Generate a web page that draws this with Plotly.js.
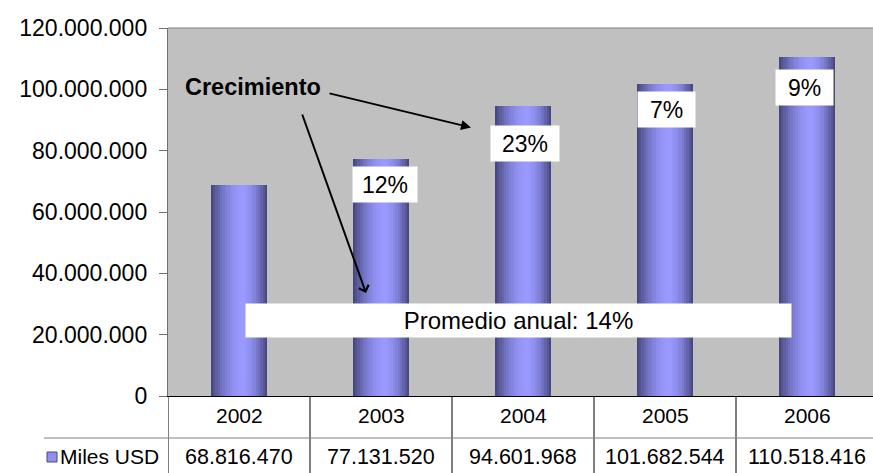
<!DOCTYPE html>
<html>
<head>
<meta charset="utf-8">
<script src="https://cdn.plot.ly/plotly-3.0.1.min.js"></script>
<style>html,body{margin:0;padding:0;background:#fff;}#chart{width:873px;height:473px;}</style>
</head>
<body>
<div id="chart"></div>
<script>
// ---- data ----
const years = ['2002', '2003', '2004', '2005', '2006'];
const milesUSD = [68816470, 77131520, 94601968, 101682544, 110518416];
const seriesName = 'Miles USD';
const growthLabels = ['12%', '23%', '7%', '9%'];      // 2003..2006
const growthTitle = 'Crecimiento';
const averageLabel = 'Promedio anual: 14%';
const yTickVals = [0, 20000000, 40000000, 60000000, 80000000, 100000000, 120000000];

// ---- helpers ----
const FONT = 'Liberation Sans, Arial, Helvetica, sans-serif';
function fmt(n) { return String(Math.round(n)).replace(/\B(?=(\d{3})+(?!\d))/g, '.'); }

// pixel geometry of the plot area
const W = 873, H = 473, L = 168, T = 28, B = 396;
const catW = 142;
const plotW = W - L, plotH = B - T;
const xRange = [-0.5, -0.5 + plotW / catW];
const yMax = 120000000;
function px2x(px) { return (px - L) / catW - 0.5; }
function py2y(py) { return (B - py) / plotH * yMax; }
function py2paper(py) { return (B - py) / plotH; }
function px2paper(px) { return (px - L) / plotW; }

// ---- bars with simulated cylindrical gradient (overlaid strips) ----
const barW = 0.4, N = 24;
const dark = [66, 66, 118], light = [153, 153, 255], peak = 0.56;
function shade(t) {
  let d = t < peak ? (peak - t) / peak : (t - peak) / (1 - peak);
  let k = 1 - Math.pow(d, 1.8);
  const c = dark.map((v, i) => Math.round(v + (light[i] - v) * k));
  return 'rgb(' + c.join(',') + ')';
}
const xIdx = years.map((_, i) => i);
const traces = [];
for (let i = 0; i < N; i++) {
  const start = -barW / 2 + i * barW / N;
  traces.push({
    type: 'bar', x: xIdx, y: milesUSD, name: seriesName,
    offset: start, width: barW / 2 - start,
    marker: { color: shade((i + 0.5) / N), line: { width: 0 } },
    hoverinfo: 'skip', showlegend: false
  });
}

// ---- annotations ----
const ann = [];
// growth boxes (positions in pixels)
const growthBoxes = [
  { cx: 385, cy: 184, w: 62 },
  { cx: 525, cy: 143, w: 66 },
  { cx: 666, cy: 109, w: 55 },
  { cx: 804.5, cy: 87, w: 55 }
];
growthLabels.forEach((t, i) => {
  const b = growthBoxes[i];
  ann.push({ text: t, xref: 'x', yref: 'y', x: px2x(b.cx), y: py2y(b.cy),
    showarrow: false, bgcolor: '#ffffff', width: b.w, height: 33,
    font: { family: FONT, size: 23, color: '#000' } });
});
// title "Crecimiento"
ann.push({ text: '<b>' + growthTitle + '</b>', xref: 'x', yref: 'y', x: px2x(253), y: py2y(87),
  showarrow: false, font: { family: FONT, size: 23.5, color: '#000' } });
// arrows
ann.push({ text: '', xref: 'x', yref: 'y', axref: 'x', ayref: 'y',
  x: px2x(471), y: py2y(127.5), ax: px2x(328), ay: py2y(93),
  showarrow: true, arrowhead: 2, arrowsize: 1, arrowwidth: 2, arrowcolor: '#000', standoff: 0, startstandoff: 0 });
ann.push({ text: '', xref: 'x', yref: 'y', axref: 'x', ayref: 'y',
  x: px2x(366), y: py2y(293), ax: px2x(301.7), ay: py2y(113),
  showarrow: true, arrowhead: 4, arrowsize: 1, arrowwidth: 2, arrowcolor: '#000', standoff: 0, startstandoff: 0 });
// average box
ann.push({ text: averageLabel, xref: 'x', yref: 'y', x: px2x(518.5), y: py2y(320.3),
  showarrow: false, bgcolor: '#ffffff', width: 543, height: 31,
  font: { family: FONT, size: 24, color: '#000' } });
// data table text
years.forEach((yr, i) => {
  ann.push({ text: yr, xref: 'x', yref: 'paper', x: i, y: py2paper(415), yanchor: 'middle',
    showarrow: false, font: { family: FONT, size: 21, color: '#000' } });
  ann.push({ text: fmt(milesUSD[i]), xref: 'x', yref: 'paper', x: i, y: py2paper(457), yanchor: 'middle',
    showarrow: false, font: { family: FONT, size: 21.5, color: '#000' } });
});
ann.push({ text: seriesName, xref: 'paper', yref: 'paper', x: px2paper(161), xanchor: 'right',
  y: py2paper(457), yanchor: 'middle', showarrow: false, font: { family: FONT, size: 21, color: '#000' } });

// ---- shapes (table grid, borders, legend key) ----
const shapes = [];
const tableBottom = py2paper(H + 2);
// vertical grid lines of table
for (let k = 0; k <= years.length; k++) {
  shapes.push({ type: 'line', xref: 'x', yref: 'paper', x0: k - 0.5, x1: k - 0.5, y0: 0, y1: tableBottom,
    line: { color: '#000', width: 1 } });
}
// horizontal line between rows
shapes.push({ type: 'line', xref: 'paper', yref: 'paper', x0: px2paper(44), x1: 1.01, y0: py2paper(438), y1: py2paper(438),
  line: { color: '#808080', width: 1.2 } });
// top border of plot area
shapes.push({ type: 'line', xref: 'paper', yref: 'paper', x0: 0, x1: 1.01, y0: 1, y1: 1,
  line: { color: '#808080', width: 1.2 } });
// legend key
shapes.push({ type: 'rect', xref: 'paper', yref: 'paper',
  x0: px2paper(47), x1: px2paper(57), y0: py2paper(462), y1: py2paper(452),
  fillcolor: '#8f8fef', line: { color: '#4a4a80', width: 1 } });

const layout = {
  width: W, height: H,
  margin: { l: L, r: 0, t: T, b: H - B, pad: 0 },
  paper_bgcolor: '#ffffff', plot_bgcolor: '#c0c0c0',
  barmode: 'overlay', bargap: 0,
  separators: ',.',
  showlegend: false,
  font: { family: FONT, size: 21, color: '#000' },
  xaxis: { type: 'linear', range: xRange, showticklabels: false, ticks: '', showgrid: false, zeroline: false,
    showline: true, linecolor: '#000', linewidth: 1, fixedrange: true },
  yaxis: { range: [0, yMax], tickvals: yTickVals, ticktext: yTickVals.map(fmt), ticks: 'outside', ticklen: 8,
    tickcolor: '#707070', tickwidth: 1, ticklabelstandoff: 7,
    showgrid: false, zeroline: false, showline: true, linecolor: '#707070', linewidth: 1.2,
    tickfont: { family: FONT, size: 23, color: '#000' }, fixedrange: true },
  annotations: ann,
  shapes: shapes
};

Plotly.newPlot('chart', traces, layout, { displayModeBar: false, staticPlot: true });
</script>
</body>
</html>
